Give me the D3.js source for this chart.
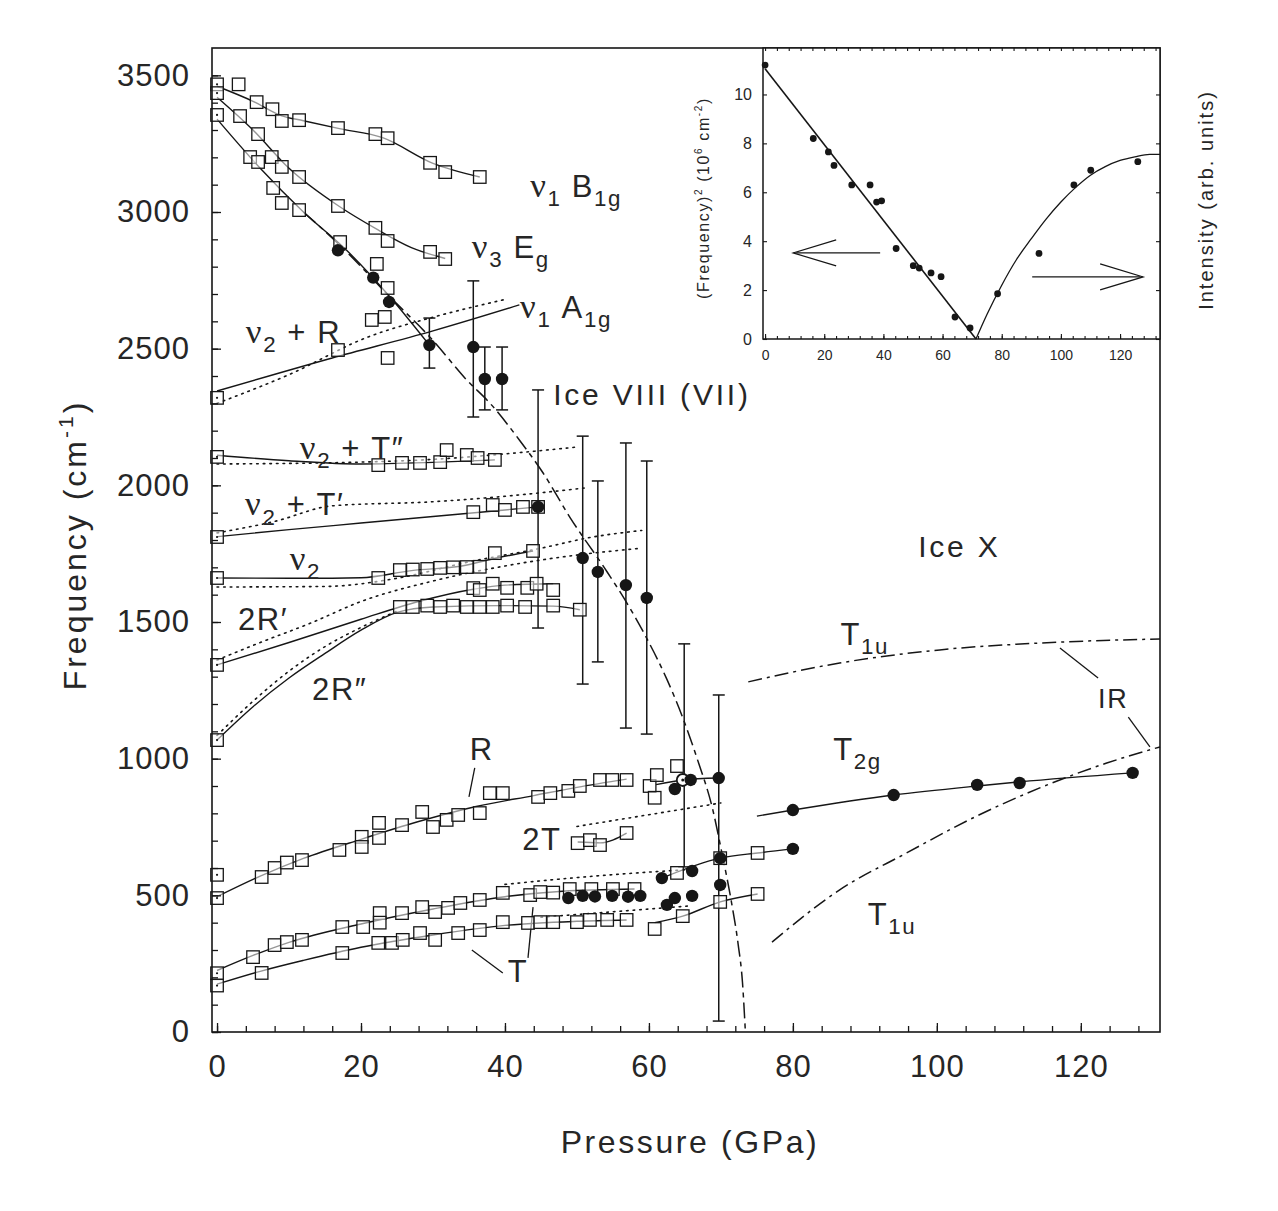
<!DOCTYPE html>
<html>
<head>
<meta charset="utf-8">
<script src="https://cdn.jsdelivr.net/npm/d3@7"></script>
<style>
  body { margin: 0; background: #fff; }
  svg { display: block; }
  text { font-family: "Liberation Sans", Arial, Helvetica, sans-serif; fill: #262626; }
</style>
</head>
<body>
<svg id="chart" width="1278" height="1211"></svg>
<script>
// ---------------- axis ticks ----------------
const pressureTicks = [0, 20, 40, 60, 80, 100, 120];
const freqTicks = [0, 500, 1000, 1500, 2000, 2500, 3000, 3500];
const insetPressureTicks = [0, 20, 40, 60, 80, 100, 120];
const insetFreqTicks = [0, 2, 4, 6, 8, 10];

// ---------------- stretching modes (open squares) and fits ----------------
const nu1B1gPts = [[0,3467],[3,3467],[5.5,3402],[7.7,3376],[9,3333],[11.4,3336],[16.8,3307],[22,3285],[23.7,3270],[29.6,3180],[31.7,3146],[36.5,3128]];
const nu1B1gFit = [[0,3460],[5,3405],[9,3352],[12,3334],[17,3305],[23,3272],[30,3178],[36.5,3128]];

const nu3EgPts = [[0,3435],[3.2,3351],[5.7,3285],[7.6,3201],[9,3165],[11.4,3128],[16.8,3022],[22,2942],[23.7,2894],[29.6,2854],[31.7,2828]];
const nu3EgFit = [[0,3420],[5,3300],[10,3160],[17,3020],[22,2940],[27,2870],[31.7,2830]];

const nu1A1gPts = [[0,3355],[4.6,3201],[5.7,3183],[7.8,3088],[9,3033],[11.4,3007],[17.1,2890],[22.2,2810],[23.7,2722]];
const nu1A1gFit = [[0,3340],[6,3160],[12,3000],[18,2860],[24,2690],[29.5,2513]];

// soft symmetric-stretch mode, vanishing near 73 GPa
const softMode = [[12,3000],[17,2880],[24,2690],[30,2530],[34.7,2385],[37.9,2301],[42,2166],[45.3,2045],[49,1884],[54.2,1683],[56.7,1580],[59.7,1440],[62.5,1290],[64.7,1150],[66.7,1000],[68.9,810],[70.1,660],[71.5,470],[72.4,320],[73,180],[73.4,0]];

// ---------------- combination / bending modes ----------------
const nu2RPts = [[0,2320],[16.8,2495],[21.5,2605],[23.3,2616],[23.7,2466]];
const nu2RFit = [[0,2345],[16,2466],[30,2565],[42,2660]];
const nu2RDotted = [[0,2300],[10,2405],[21,2543],[30,2615],[40,2680]];

const nu2T2Pts = [[0,2104],[22.4,2074],[25.7,2082],[28.2,2082],[31,2085],[31.9,2129],[34.7,2111],[36.2,2100],[38.6,2093]];
const nu2T2Fit = [[0,2110],[10,2090],[20,2078],[30,2084],[38.6,2093]];
const nu2T2Dotted = [[0,2078],[20,2085],[30,2095],[40,2115],[50,2140]];

const nu2T1Pts = [[0,1811],[35.6,1902],[38.3,1928],[40,1910],[42.5,1921],[44.6,1921]];
const nu2T1Fit = [[0,1812],[10,1838],[20,1862],[30,1886],[40,1910],[44.6,1921]];
const nu2T1Dotted = [[0,1826],[8,1868],[16,1925],[30,1940],[40,1960],[51,1990]];

const nu2Pts = [[0,1661],[22.4,1661],[25.4,1690],[27.2,1692],[29.2,1694],[31,1698],[32.8,1700],[34.7,1701],[36.5,1702],[38.6,1752],[43.9,1760]];
const nu2Fit = [[0,1661],[12,1660],[20,1662],[27,1688],[34,1705],[39,1735],[43.9,1760]];
const nu2Dotted = [[0,1628],[15,1630],[25,1660],[35,1720],[45,1770],[52,1810],[59,1835]];

const twoR1Pts = [[0,1343],[35.6,1624],[36.5,1617],[38.3,1640],[40.3,1625],[43.1,1625],[44.4,1640],[46.7,1617]];
const twoR1Fit = [[0,1343],[10,1425],[20,1510],[28,1575],[35.6,1620],[40,1635],[46.7,1640]];
const twoR1Dotted = [[0,1361],[6,1425],[13,1496],[20,1575],[30,1650],[40,1705],[50,1745],[59,1770]];

const twoR2Pts = [[0,1068],[25.4,1555],[27.2,1555],[29.2,1560],[31,1555],[32.8,1560],[34.7,1555],[36.5,1555],[38.3,1555],[40.3,1560],[42.8,1555],[46.7,1560],[50.4,1545]];
const twoR2Fit = [[0,1068],[5,1190],[10,1295],[15,1385],[20,1470],[25,1535],[30,1555],[40,1560],[46.7,1558],[50.4,1545]];
const twoR2Dotted = [[0,1085],[5,1210],[10,1320],[15,1410],[20,1480],[25,1540]];

// ---------------- lattice modes ----------------
const rPts = [[0,575],[0,490],[6.2,567],[8,600],[9.7,620],[11.8,629],[17,666],[20.1,714],[20.1,677],[22.5,765],[22.5,710],[25.7,757],[28.5,805],[30,750],[31.9,776],[33.5,794],[36.5,801],[37.9,874],[39.7,874],[44.6,860],[46.3,874],[48.8,882],[50.4,900],[53.2,922],[54.9,922],[56.9,922]];
const rFit = [[0,495],[6,570],[12,635],[20,705],[28,770],[36,825],[44,865],[50,895],[56.9,925]];

const twoTPts = [[50.1,691],[51.8,702],[53.2,684],[56.9,728]];
const twoTFit = [[50.1,695],[53.2,692],[56.9,728]];
const twoTDotted = [[50,752],[60,795],[70,838]];

const tUpPts = [[0,215],[5,274],[8,318],[9.7,329],[11.8,337],[17.4,384],[20.3,384],[22.6,435],[22.6,400],[25.7,435],[28.5,457],[30.3,439],[32.1,454],[33.8,472],[36.5,483],[39.7,509],[43.5,501],[44.9,512],[46.7,510],[49,523],[52,523],[55,523],[58,523]];
const tUpFit = [[0,225],[5,280],[10,328],[20,395],[30,450],[40,495],[48,515],[58,523]];
const tUpDotted = [[40,540],[50,565],[60,585],[66,595]];

const tLowPts = [[0,170],[6.2,216],[17.4,289],[22.4,326],[24.3,326],[25.8,337],[28.2,362],[30.3,337],[33.5,362],[36.5,373],[39.7,402],[43.2,399],[44.9,402],[46.7,402],[50,402],[51.8,410],[54.2,410],[56.9,410]];
const tLowFit = [[0,175],[6,222],[12,262],[20,310],[30,355],[40,390],[50,405],[56.9,410]];
const tLowDotted = [[45,420],[55,440],[66,462]];

// high-pressure squares, ring marker and short fits
const hpSquares = [[60.1,900],[61.1,940],[60.8,857],[63.9,973],[63.9,582],[75.1,655],[60.8,377],[64.7,424],[69.9,476],[75.1,505],[69.9,636]];
const hpRing = [[64.7,922]];
const rHighFit = [[61,905],[64.7,922],[69.7,929]];
const tUpHighFit = [[61.8,563],[69.9,636],[75.1,655],[80,670]];
const tLowHighFit = [[60.8,400],[64.7,424],[69.9,476],[75.1,505]];

// ---------------- filled circles ----------------
const stretchCircles = [[16.8,2860],[21.7,2760],[23.9,2671],[29.5,2513],[35.6,2506],[37.2,2389],[39.6,2389],[44.6,1921],[50.8,1734],[52.9,1683],[56.8,1635],[59.7,1588],[65.8,922],[63.6,889],[69.7,929]];
const latticeCircles = [[48.8,490],[50.8,498],[52.5,496],[54.9,498],[57.1,495],[58.8,498],[61.8,563],[62.5,465],[63.6,490],[66,498],[66,589],[69.9,636],[69.9,538],[80,670]];
const t2gPts = [[80,812],[94,867],[105.6,904],[111.5,911],[127.2,948]];
const t2gFit = [[75,790],[80,812],[94,867],[105.6,900],[111.5,915],[127.2,948]];

// [pressure, low, high]
const errorBars = [[29.5,2429,2612],[35.6,2250,2748],[37.2,2276,2506],[39.6,2276,2506],[44.6,1478,2349],[50.8,1273,2180],[52.9,1354,2016],[56.8,1112,2155],[59.7,1090,2089],[64.9,604,1420],[69.7,40,1233]];

// infrared-active T1u branches of ice X
const t1uUpper = [[73.8,1281],[86.5,1350],[100.4,1398],[114.3,1423],[131,1438]];
const t1uLower = [[77.1,329],[86.5,520],[95.8,655],[105,783],[114.3,893],[123.6,984],[131,1043]];

// ---------------- inset: squared soft-mode frequency and intensity ----------------
const insetFreqSq = [[0,11.2],[16.3,8.2],[21.4,7.65],[23.3,7.1],[29.3,6.3],[35.5,6.3],[37.7,5.6],[39.4,5.65],[44.3,3.7],[50.1,3.0],[52.1,2.9],[56.1,2.7],[59.5,2.55],[64.2,0.9],[69.3,0.45]];
const insetIntensity = [[78.6,1.85],[92.6,3.5],[104.4,6.3],[110.1,6.9],[126,7.25]];
const insetFreqFit = [[0,11.05],[71.3,0]];
const insetIntensityFit = [[71.3,0],[75,1.0],[80,2.2],[85,3.25],[90,4.1],[95,4.9],[100,5.6],[105,6.2],[110,6.7],[115,7.05],[120,7.3],[125,7.45],[130,7.55],[133.5,7.55]];

// ---------------- text labels ----------------
const NU = {t: "\u03bd", serif: true};
const plotLabels = [
  {at: [43.5, 3055], parts: [NU, {t:"1", sub:true}, {t:" B"}, {t:"1g", sub:true}]},
  {at: [35.4, 2832], parts: [NU, {t:"3", sub:true}, {t:" E"}, {t:"g", sub:true}]},
  {at: [42.1, 2612], parts: [NU, {t:"1", sub:true}, {t:" A"}, {t:"1g", sub:true}]},
  {at: [4.0, 2521],  parts: [NU, {t:"2", sub:true}, {t:" + R"}]},
  {at: [46.7, 2294], parts: [{t:"Ice VIII (VII)"}], size: 30, ls: 2.8},
  {at: [11.5, 2098], parts: [NU, {t:"2", sub:true}, {t:" + T\u2033"}]},
  {at: [3.9, 1890],  parts: [NU, {t:"2", sub:true}, {t:" + T\u2032"}]},
  {at: [10.1, 1690], parts: [NU, {t:"2", sub:true}]},
  {at: [2.9, 1471],  parts: [{t:"2R\u2032"}]},
  {at: [13.2, 1215], parts: [{t:"2R\u2033"}]},
  {at: [35.1, 995],  parts: [{t:"R"}]},
  {at: [42.4, 666],  parts: [{t:"2T"}]},
  {at: [40.4, 183],  parts: [{t:"T"}]},
  {at: [97.4, 1738], parts: [{t:"Ice X"}], size: 30, ls: 2.8},
  {at: [86.6, 1416], parts: [{t:"T"}, {t:"1u", sub:true}]},
  {at: [85.6, 995],  parts: [{t:"T"}, {t:"2g", sub:true}]},
  {at: [122.4, 1185], parts: [{t:"IR"}], size: 27},
  {at: [90.4, 391],  parts: [{t:"T"}, {t:"1u", sub:true}]}
];
const leaderLines = [
  [[35.8,966],[35.0,860]],
  [[35.4,300],[39.7,216]],
  [[43.9,457],[43.2,271]],
  [[117.1,1405],[122.4,1295]],
  [[126.6,1152],[129.6,1043]]
];
const insetArrows = [
  {from: [38.9, 3.52], to: [9.5, 3.52]},
  {from: [90.3, 2.54], to: [127.8, 2.54]}
];

// ================= drawing =================
const svg = d3.select("#chart");
svg.append("rect").attr("width", 1278).attr("height", 1211).attr("fill", "#fff");

const x = d3.scaleLinear().domain([-0.7, 131]).range([212, 1160]);
const y = d3.scaleLinear().domain([0, 3600]).range([1032, 48]);

const INK = "#161616";
const lineGen = d3.line().x(d => x(d[0])).y(d => y(d[1])).curve(d3.curveMonotoneX);
const straight = d3.line().x(d => x(d[0])).y(d => y(d[1]));

const plot = svg.append("g");

function path(data, opts = {}) {
  plot.append("path")
    .attr("d", (opts.straight ? straight : lineGen)(data))
    .attr("fill", "none")
    .attr("stroke", INK)
    .attr("stroke-width", opts.width || 1.4)
    .attr("stroke-dasharray", opts.dash || null)
    .attr("stroke-linecap", opts.cap || "butt");
}
const DOT = "1.6,5";

// dotted extrapolations
[nu2RDotted, nu2T2Dotted, nu2T1Dotted, nu2Dotted, twoR1Dotted, twoR2Dotted, twoTDotted, tUpDotted, tLowDotted]
  .forEach(d => path(d, {dash: DOT, width: 1.6, cap: "round"}));

// solid fits
[nu1B1gFit, nu3EgFit, nu1A1gFit, nu2RFit, nu2T2Fit, nu2T1Fit, nu2Fit, twoR1Fit, twoR2Fit,
 rFit, twoTFit, tUpFit, tLowFit, rHighFit, tUpHighFit, tLowHighFit, t2gFit]
  .forEach(d => path(d));

// soft mode and T1u branches
path(softMode, {dash: "16,5,5,5", width: 1.5});
path(t1uUpper, {dash: "14,5,3,5", width: 1.5});
path(t1uLower, {dash: "14,5,3,5", width: 1.5});

// leader lines
leaderLines.forEach(d => path(d, {straight: true, width: 1.3}));

// error bars
const capW = 6;
const eb = plot.append("g").attr("stroke", INK).attr("stroke-width", 1.5);
errorBars.forEach(([p, lo, hi]) => {
  eb.append("line").attr("x1", x(p)).attr("x2", x(p)).attr("y1", y(lo)).attr("y2", y(hi));
  eb.append("line").attr("x1", x(p) - capW).attr("x2", x(p) + capW).attr("y1", y(lo)).attr("y2", y(lo));
  eb.append("line").attr("x1", x(p) - capW).attr("x2", x(p) + capW).attr("y1", y(hi)).attr("y2", y(hi));
});

// open squares
const SQ = 12.5;
const squareSets = [nu1B1gPts, nu3EgPts, nu1A1gPts, nu2RPts, nu2T2Pts, nu2T1Pts, nu2Pts, twoR1Pts, twoR2Pts,
  rPts, twoTPts, tUpPts, tLowPts, hpSquares];
const sq = plot.append("g");
squareSets.forEach(set => {
  sq.selectAll(null).data(set).enter().append("rect")
    .attr("x", d => x(d[0]) - SQ / 2).attr("y", d => y(d[1]) - SQ / 2)
    .attr("width", SQ).attr("height", SQ)
    .attr("fill", "#fff").attr("fill-opacity", 0.55)
    .attr("stroke", INK).attr("stroke-width", 1.3);
});
// a small dot inside the zero-pressure squares
sq.selectAll(null).data(squareSets.flat().filter(d => d[0] === 0)).enter().append("circle")
  .attr("cx", d => x(d[0])).attr("cy", d => y(d[1])).attr("r", 1.1).attr("fill", INK);

// ring marker
plot.selectAll(null).data(hpRing).enter().append("circle")
  .attr("cx", d => x(d[0])).attr("cy", d => y(d[1])).attr("r", 6)
  .attr("fill", "#fff").attr("stroke", INK).attr("stroke-width", 1.8);
plot.selectAll(null).data(hpRing).enter().append("circle")
  .attr("cx", d => x(d[0])).attr("cy", d => y(d[1])).attr("r", 1.5).attr("fill", INK);

// filled circles
[stretchCircles, latticeCircles, t2gPts].forEach(set => {
  plot.selectAll(null).data(set).enter().append("circle")
    .attr("cx", d => x(d[0])).attr("cy", d => y(d[1])).attr("r", 6.2)
    .attr("fill", INK);
});

// ---------------- frame and axes ----------------
svg.append("rect").attr("x", 212).attr("y", 48).attr("width", 948).attr("height", 984)
  .attr("fill", "none").attr("stroke", INK).attr("stroke-width", 1.6);

const minorX = svg.append("g").attr("transform", "translate(0,1032)")
  .call(d3.axisBottom(x).tickValues(d3.range(0, 131, 4)).tickSize(-6).tickFormat(""));
const majorX = svg.append("g").attr("transform", "translate(0,1032)")
  .call(d3.axisBottom(x).tickValues(pressureTicks).tickSize(-9).tickPadding(23).tickFormat(d3.format("d")));
const minorY = svg.append("g").attr("transform", "translate(212,0)")
  .call(d3.axisLeft(y).tickValues(d3.range(0, 3600, 100)).tickSize(-6).tickFormat(""));
const majorY = svg.append("g").attr("transform", "translate(212,0)")
  .call(d3.axisLeft(y).tickValues(freqTicks).tickSize(-9).tickPadding(22).tickFormat(d3.format("d")));
[minorX, majorX, minorY, majorY].forEach(g => {
  g.select(".domain").remove();
  g.selectAll(".tick line").attr("stroke", INK).attr("stroke-width", 1.3);
  g.selectAll("text").attr("font-size", 31).attr("fill", "#262626")
    .attr("font-family", "'Liberation Sans', Arial, sans-serif").style("letter-spacing", "1px");
});

svg.append("text").attr("x", 690).attr("y", 1153).attr("text-anchor", "middle")
  .attr("font-size", 32).style("letter-spacing", "2.6px").text("Pressure (GPa)");

const yTitle = svg.append("text").attr("transform", "translate(86,545) rotate(-90)")
  .attr("text-anchor", "middle").attr("font-size", 32).style("letter-spacing", "3px");
yTitle.append("tspan").text("Frequency (cm");
yTitle.append("tspan").text("-1").attr("font-size", 21).attr("dy", -13);
yTitle.append("tspan").text(")").attr("dy", 13);

// ---------------- in-plot labels ----------------
function richText(parent, parts, fontSize) {
  const t = parent.append("text").attr("font-size", fontSize);
  let shift = 0;
  parts.forEach(p => {
    const target = p.sub ? fontSize * 0.3 : 0;
    const ts = t.append("tspan").text(p.t);
    if (target - shift !== 0) ts.attr("dy", target - shift);
    shift = target;
    if (p.sub) ts.attr("font-size", fontSize * 0.72);
    if (p.serif) ts.attr("font-family", "'Liberation Serif', 'Times New Roman', serif").attr("font-size", fontSize * 1.12);
  });
  return t;
}
const labelLayer = svg.append("g");
plotLabels.forEach(l => {
  richText(labelLayer, l.parts, l.size || 31)
    .attr("x", x(l.at[0])).attr("y", y(l.at[1]))
    .style("letter-spacing", (l.ls || 1.6) + "px");
});

// ---------------- inset ----------------
const xi = d3.scaleLinear().domain([-0.7, 133.5]).range([763, 1160]);
const yi = d3.scaleLinear().domain([0, 11.9]).range([339, 48]);
const inset = svg.append("g");
inset.append("rect").attr("x", 763).attr("y", 48).attr("width", 397).attr("height", 291)
  .attr("fill", "#fff").attr("stroke", INK).attr("stroke-width", 1.5);

const iLine = d3.line().x(d => xi(d[0])).y(d => yi(d[1]));
inset.append("path").attr("d", iLine(insetFreqFit)).attr("fill", "none").attr("stroke", INK).attr("stroke-width", 1.6);
inset.append("path").attr("d", iLine.curve(d3.curveMonotoneX)(insetIntensityFit)).attr("fill", "none").attr("stroke", INK).attr("stroke-width", 1.3);
[insetFreqSq, insetIntensity].forEach(set => {
  inset.selectAll(null).data(set).enter().append("circle")
    .attr("cx", d => xi(d[0])).attr("cy", d => yi(d[1])).attr("r", 3.4).attr("fill", INK);
});

// inset arrows (open chevron heads)
insetArrows.forEach(a => {
  const x0 = xi(a.from[0]), x1 = xi(a.to[0]), yy = yi(a.from[1]);
  const dir = Math.sign(x1 - x0);
  const g = inset.append("g").attr("stroke", INK).attr("stroke-width", 1.2).attr("fill", "none");
  g.append("line").attr("x1", x0).attr("x2", x1 - dir * 3).attr("y1", yy).attr("y2", yy);
  g.append("path").attr("d", `M${x1 - dir * 43},${yy - 13} L${x1},${yy} L${x1 - dir * 43},${yy + 13}`);
});

// inset ticks
const iTick = (g) => {
  g.select(".domain").remove();
  g.selectAll(".tick line").attr("stroke", INK).attr("stroke-width", 1.1);
  g.selectAll("text").attr("font-size", 14).attr("fill", "#262626");
};
inset.append("g").attr("transform", "translate(0,339)")
  .call(d3.axisBottom(xi).tickValues(d3.range(0, 134, 4)).tickSize(-3).tickFormat("")).call(iTick);
inset.append("g").attr("transform", "translate(0,339)")
  .call(d3.axisBottom(xi).tickValues(insetPressureTicks).tickSize(-5).tickPadding(11).tickFormat(d3.format("d"))).call(iTick);
inset.append("g").attr("transform", "translate(0,48)")
  .call(d3.axisTop(xi).tickValues(d3.range(0, 134, 4)).tickSize(-3).tickFormat("")).call(iTick);
inset.append("g").attr("transform", "translate(763,0)")
  .call(d3.axisLeft(yi).tickValues(insetFreqTicks).tickSize(-4).tickPadding(11).tickFormat(d3.format("d"))).call(iTick)
  .selectAll("text").attr("font-size", 16);
inset.append("g").attr("transform", "translate(1160,0)")
  .call(d3.axisRight(yi).tickValues(insetFreqTicks).tickSize(-4).tickFormat("")).call(iTick);

const iyTitle = inset.append("text").attr("transform", "translate(709,198) rotate(-90)")
  .attr("text-anchor", "middle").attr("font-size", 16).style("letter-spacing", "1.6px");
iyTitle.append("tspan").text("(Frequency)");
iyTitle.append("tspan").text("2").attr("font-size", 10).attr("dy", -7);
iyTitle.append("tspan").text(" (10").attr("dy", 7);
iyTitle.append("tspan").text("6").attr("font-size", 10).attr("dy", -7);
iyTitle.append("tspan").text(" cm").attr("dy", 7);
iyTitle.append("tspan").text("-2").attr("font-size", 10).attr("dy", -7);
iyTitle.append("tspan").text(")").attr("dy", 7);

svg.append("text").attr("transform", "translate(1213,200) rotate(-90)")
  .attr("text-anchor", "middle").attr("font-size", 20).style("letter-spacing", "2px")
  .text("Intensity (arb. units)");
</script>
</body>
</html>
